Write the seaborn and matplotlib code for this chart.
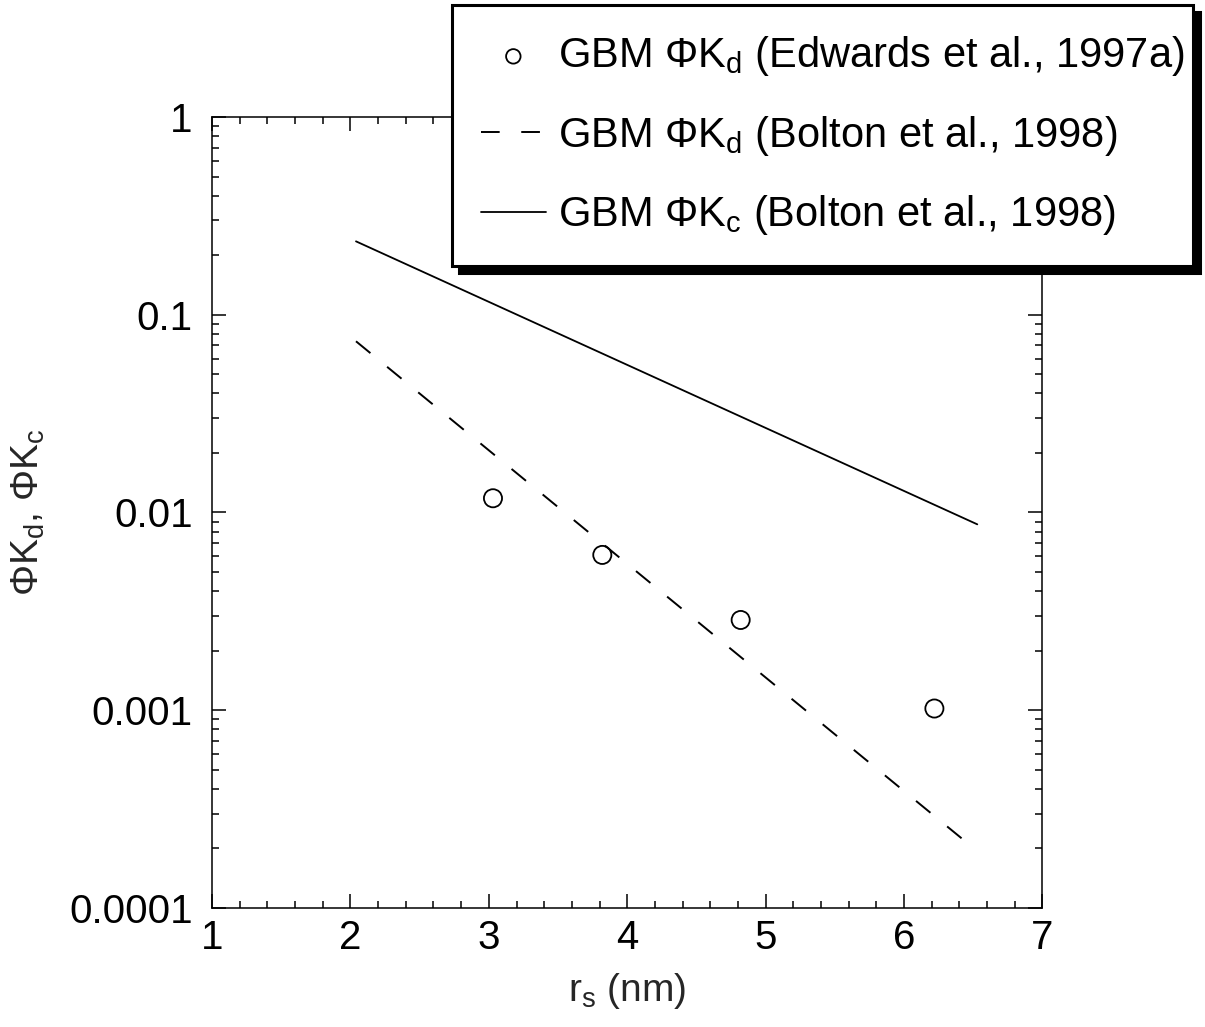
import matplotlib
matplotlib.use("Agg")
import matplotlib.pyplot as plt
import seaborn as sns
import pandas as pd

# Measured partition/diffusion data (open circles)
edwards_rs = [3.03, 3.82, 4.82, 6.22]
edwards_phikd = [0.0118, 0.0061, 0.00286, 0.00102]

# Model curves (Bolton et al., 1998)
bolton_rs = [2.04, 6.42]
bolton_phikd = [0.0734, 0.000224]
bolton_rs_c = [2.04, 6.53]
bolton_phikc = [0.235, 0.00871]

lab_edw = r"GBM $\Phi$K$_\mathregular{d}$ (Edwards et al., 1997a)"
lab_bkd = r"GBM $\Phi$K$_\mathregular{d}$ (Bolton et al., 1998)"
lab_bkc = r"GBM $\Phi$K$_\mathregular{c}$ (Bolton et al., 1998)"

sns.set_style("ticks")
plt.rcParams["font.family"] = ["Liberation Sans", "DejaVu Sans"]
plt.rcParams["mathtext.fontset"] = "custom"
plt.rcParams["mathtext.rm"] = "Liberation Sans"
plt.rcParams["mathtext.it"] = "Liberation Sans"
plt.rcParams["mathtext.default"] = "regular"

fig = plt.figure(figsize=(12.05, 10.27), dpi=100)
ax = fig.add_axes([0.176, 0.1159, 0.689, 0.7702])

df_edw = pd.DataFrame({"rs": edwards_rs, "phi": edwards_phikd})
df_bkd = pd.DataFrame({"rs": bolton_rs, "phi": bolton_phikd})
df_bkc = pd.DataFrame({"rs": bolton_rs_c, "phi": bolton_phikc})

sns.scatterplot(data=df_edw, x="rs", y="phi", ax=ax, marker="o", s=170,
                facecolor="none", edgecolor="black", linewidth=1.3,
                label=lab_edw, zorder=3)
sns.lineplot(data=df_bkd, x="rs", y="phi", ax=ax, color="black", lw=1.4,
             label=lab_bkd)
ax.lines[-1].set_dashes((9.6, 11.1))
sns.lineplot(data=df_bkc, x="rs", y="phi", ax=ax, color="black", lw=1.3,
             label=lab_bkc)

ax.set_yscale("log")
ax.set_xlim(1, 7)
ax.set_ylim(1e-4, 1)
ax.set_xticks([1, 2, 3, 4, 5, 6, 7])
ax.set_xticklabels(["1", "2", "3", "4", "5", "6", "7"])
ax.set_xticks([1 + 0.2 * i for i in range(31) if i % 5], minor=True)
ax.set_yticks([1e-4, 1e-3, 1e-2, 1e-1, 1])
ax.set_yticklabels(["0.0001", "0.001", "0.01", "0.1", "1"])

for s in ax.spines.values():
    s.set_linewidth(1.1)
    s.set_color("black")
ax.tick_params(which="both", direction="in", top=True, right=True,
               colors="black", width=1.1)
ax.tick_params(which="major", length=10, labelsize=29)
ax.tick_params(which="minor", length=5)
ax.tick_params(axis="x", which="major", pad=8)
ax.tick_params(axis="y", which="major", pad=14)

ax.set_xlabel(r"r$_\mathregular{s}$ (nm)", fontsize=28, labelpad=10)
ax.set_ylabel(r"$\Phi$K$_\mathregular{d}$, $\Phi$K$_\mathregular{c}$",
              fontsize=28, labelpad=16)

leg = ax.legend(loc="upper left", bbox_to_anchor=(0.375, 0.995, 0.615, 0.0),
                bbox_transform=fig.transFigure, mode="expand",
                fontsize=30, frameon=True, fancybox=False,
                shadow={"ox": 5, "oy": -5, "color": "black", "alpha": 1},
                handlelength=1.55, handletextpad=0.3,
                borderpad=0.7, labelspacing=0.85, borderaxespad=0,
                markerscale=0.8)
leg.get_frame().set_edgecolor("black")
leg.get_frame().set_linewidth(2.2)
leg.get_frame().set_alpha(1)
for t in leg.get_texts():
    t.set_color("black")

fig.savefig("out.png", dpi=100, facecolor="white")
